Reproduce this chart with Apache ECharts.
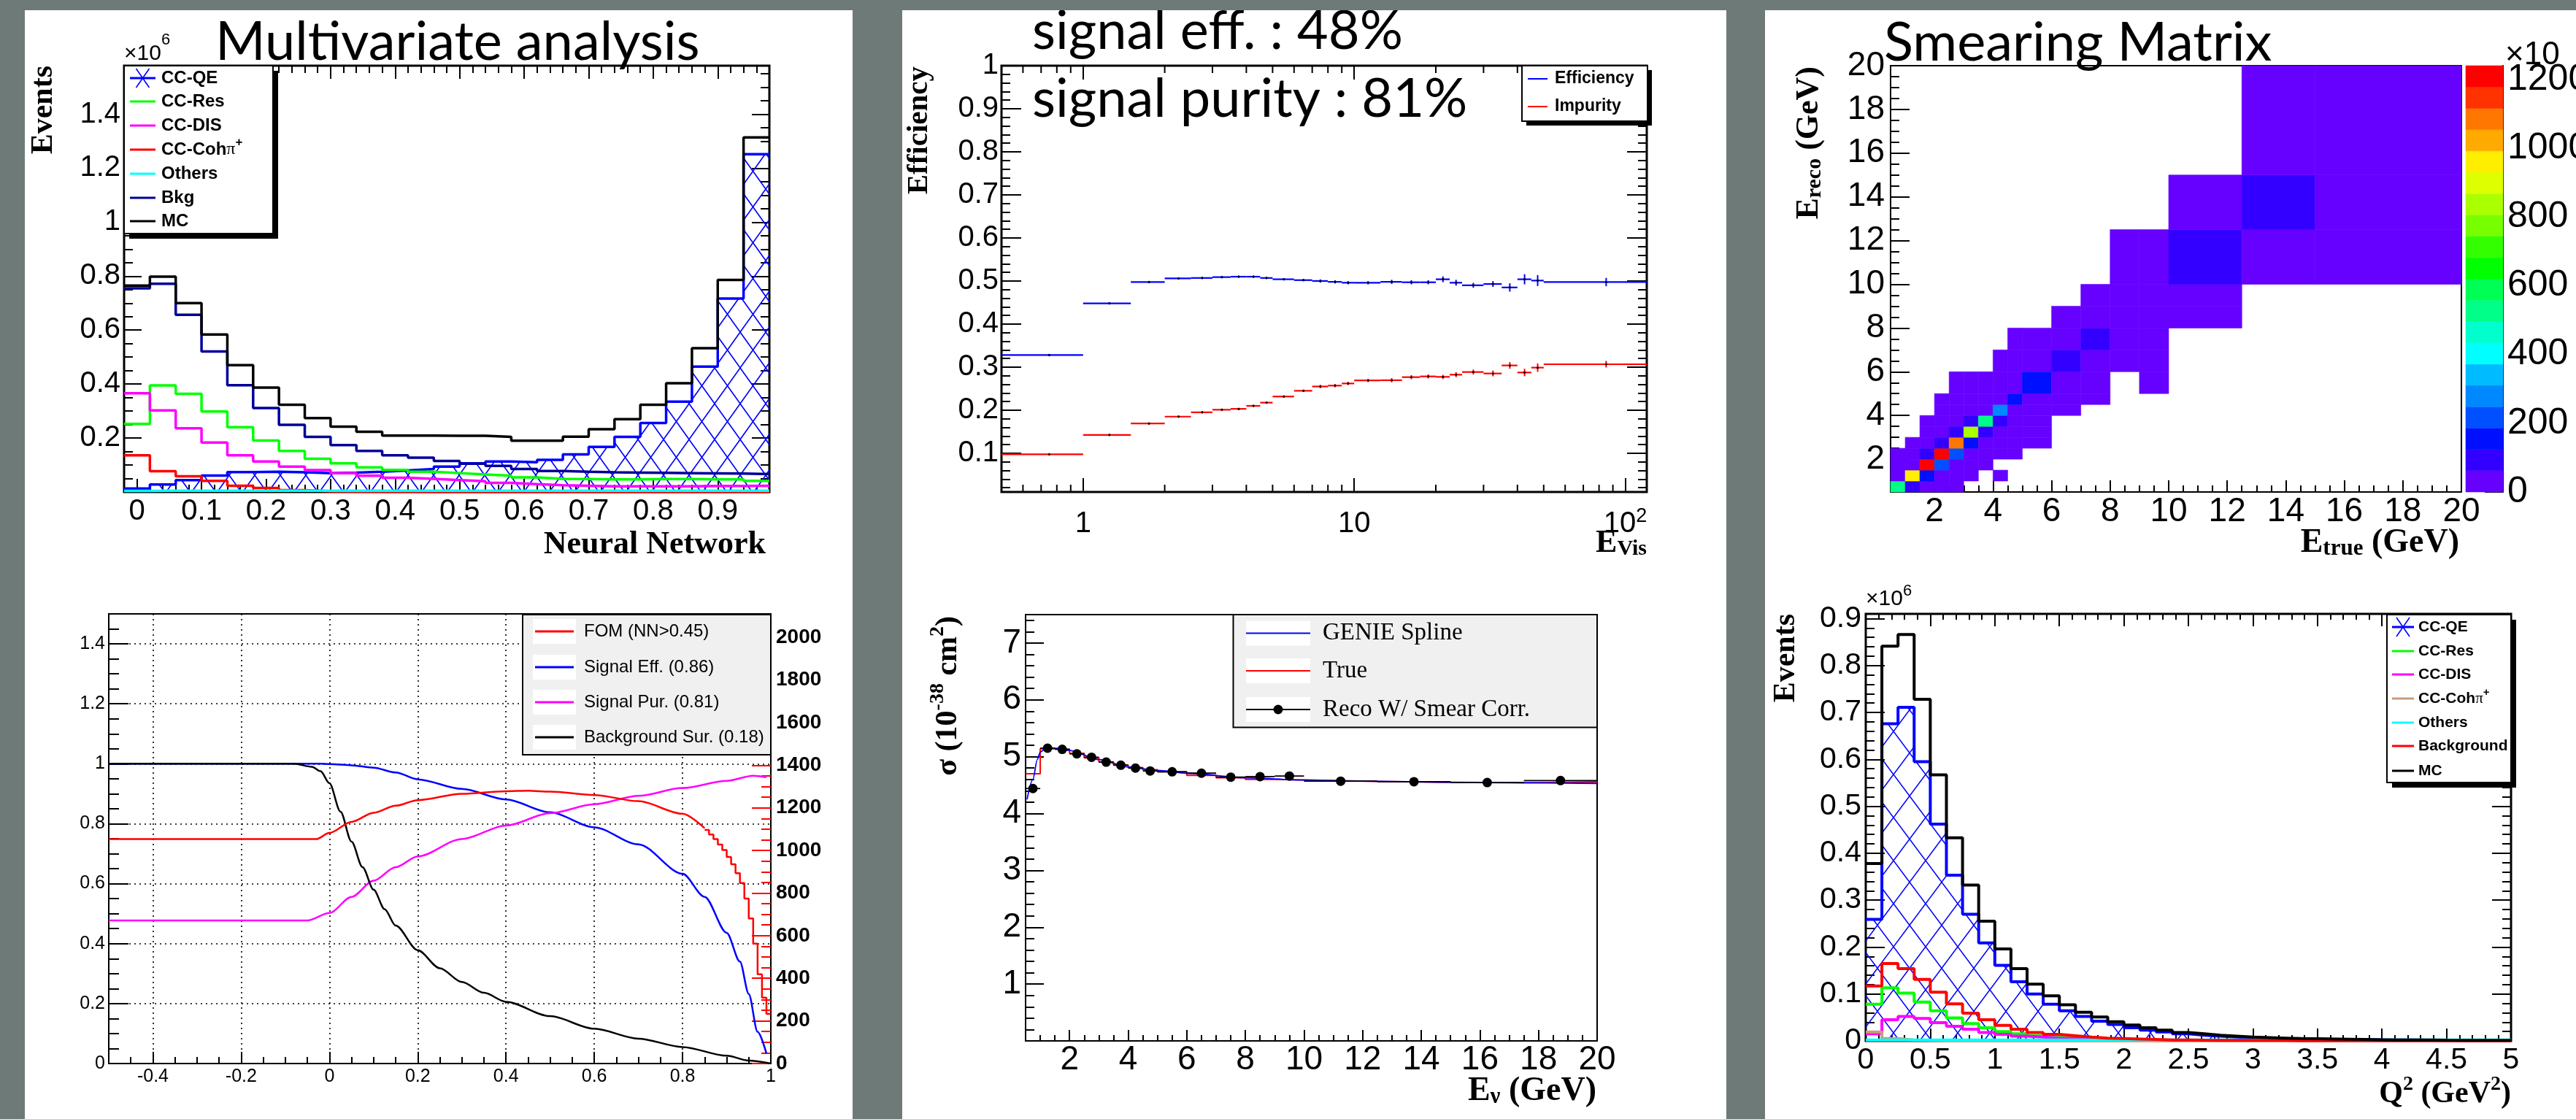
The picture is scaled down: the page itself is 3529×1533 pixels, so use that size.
<!DOCTYPE html>
<html>
<head>
<meta charset="utf-8">
<title>CCQE analysis panels</title>
<script src="https://cdn.jsdelivr.net/npm/echarts@6/dist/echarts.min.js"></script>
<style>
  html, body { margin:0; padding:0; width:3529px; height:1533px; overflow:hidden; background:#6e7a77; }
  .col { position:absolute; background:#ffffff; }
  .pan { position:absolute; overflow:hidden; }
</style>
</head>
<body>
<div class="col" style="left:34px;top:14px;width:1134px;height:1519px;"></div>
<div class="col" style="left:1236px;top:14px;width:1129px;height:1519px;"></div>
<div class="col" style="left:2418px;top:14px;width:1111px;height:1519px;"></div>
<div id="p1" class="pan" style="left:34px;top:14px;width:1134px;height:752px;"></div>
<div id="p2" class="pan" style="left:1236px;top:14px;width:1129px;height:752px;"></div>
<div id="p3" class="pan" style="left:2418px;top:14px;width:1111px;height:752px;"></div>
<div id="p4" class="pan" style="left:34px;top:766px;width:1134px;height:767px;"></div>
<div id="p5" class="pan" style="left:1236px;top:766px;width:1129px;height:767px;"></div>
<div id="p6" class="pan" style="left:2418px;top:766px;width:1111px;height:767px;"></div>
<script>
// ======================= DATA =======================
// Panel 1 : Neural network output (x10^6 events)
const nnEdges = [-0.02,0.02,0.06,0.10,0.14,0.18,0.22,0.26,0.30,0.34,0.38,0.42,0.46,0.50,0.54,0.58,0.62,0.66,0.70,0.74,0.78,0.82,0.86,0.90,0.94,0.98];
const nnCCQE  = [0.013,0.028,0.044,0.061,0.074,0.075,0.073,0.070,0.072,0.075,0.080,0.085,0.094,0.106,0.113,0.110,0.119,0.139,0.167,0.204,0.256,0.335,0.465,0.717,1.252];
const nnCCRes = [0.252,0.395,0.364,0.298,0.240,0.191,0.152,0.123,0.106,0.091,0.082,0.075,0.070,0.065,0.060,0.054,0.049,0.048,0.047,0.047,0.048,0.048,0.047,0.047,0.041];
const nnCCDIS = [0.366,0.302,0.236,0.183,0.136,0.113,0.094,0.081,0.070,0.060,0.053,0.049,0.044,0.040,0.034,0.029,0.025,0.023,0.021,0.021,0.021,0.021,0.022,0.022,0.023];
const nnCoh   = [0.136,0.077,0.058,0.041,0.023,0.015,0.007,0.003,0.002,0.001,0.001,0,0,0,0,0,0,0,0,0,0,0,0,0,0];
const nnOthers= [0.004,0.005,0.005,0.005,0.005,0.005,0.005,0.005,0.005,0.005,0.005,0.005,0.005,0.005,0.005,0.005,0.005,0.005,0.005,0.005,0.005,0.005,0.005,0.005,0.005];
const nnBkg   = [0.755,0.772,0.657,0.521,0.396,0.311,0.249,0.204,0.174,0.152,0.136,0.127,0.115,0.105,0.097,0.085,0.078,0.075,0.073,0.072,0.071,0.070,0.069,0.068,0.066];
const nnMC    = [0.765,0.798,0.700,0.584,0.470,0.387,0.323,0.274,0.242,0.223,0.209,0.209,0.208,0.208,0.204,0.190,0.190,0.205,0.233,0.270,0.323,0.403,0.533,0.786,1.314];
const nnNames = ['CC-QE','CC-Res','CC-DIS','CC-Cohπ+','Others','Bkg','MC'];
const nnColors= ['#0000ff','#00ff00','#ff00ff','#ff0000','#00ffff','#000099','#000000'];

// Panel 2 : efficiency / impurity vs E_vis
const effEdges = [0.5,1,1.5,2,2.5,3,3.5,4,4.5,5,6,7,8,9,10,12.5,15,17.5,20,22.5,25,30,35,40,45,50,120];
const effVals  = [0.328,0.448,0.4975,0.506,0.507,0.509,0.510,0.510,0.507,0.504,0.502,0.500,0.498,0.496,0.496,0.498,0.497,0.497,0.504,0.496,0.490,0.493,0.485,0.504,0.501,0.4975];
const effErrs  = [0.001,0.001,0.001,0.001,0.001,0.001,0.001,0.001,0.001,0.001,0.001,0.002,0.002,0.002,0.002,0.003,0.003,0.003,0.005,0.005,0.004,0.005,0.008,0.010,0.011,0.008];
const impVals  = [0.0975,0.1425,0.169,0.185,0.195,0.201,0.203,0.210,0.2175,0.2317,0.245,0.255,0.257,0.262,0.269,0.2695,0.2767,0.2784,0.2773,0.2824,0.2886,0.2852,0.3039,0.2875,0.2988,0.3067];
const impErrs  = [0.001,0.001,0.001,0.001,0.001,0.001,0.001,0.001,0.001,0.001,0.001,0.002,0.002,0.002,0.002,0.003,0.003,0.003,0.003,0.004,0.004,0.005,0.006,0.007,0.008,0.006];
const effMinorTicks = [0.6,0.7,0.8,0.9,2,3,4,5,6,7,8,9,20,30,40,50,60,70,80,90];

// Panel 3 : smearing matrix (rows = reco bins, columns = true bins)
const smBins = [0.5,1,1.5,2,2.5,3,3.5,4,4.5,5,6,7,8,9,10,12.5,15,20];
const smMatrix = [
  [525,90,25,25,25,0,0,0,0,0,0,0,0,0,0,0,0],
  [25,960,150,25,25,25,0,25,0,0,0,0,0,0,0,0,0],
  [25,25,1215,215,25,25,25,0,0,0,0,0,0,0,0,0,0],
  [25,25,90,1205,215,25,25,25,25,0,0,0,0,0,0,0,0],
  [0,25,25,90,1085,150,25,25,25,25,0,0,0,0,0,0,0],
  [0,0,25,25,90,830,90,25,25,25,0,0,0,0,0,0,0],
  [0,0,25,25,25,90,525,90,25,25,0,0,0,0,0,0,0],
  [0,0,0,25,25,25,25,275,25,25,25,0,0,0,0,0,0],
  [0,0,0,25,25,25,25,25,150,25,25,25,0,0,0,0,0],
  [0,0,0,0,25,25,25,25,25,150,25,25,0,25,0,0,0],
  [0,0,0,0,0,0,0,25,25,25,90,25,25,25,0,0,0],
  [0,0,0,0,0,0,0,0,25,25,25,90,25,25,0,0,0],
  [0,0,0,0,0,0,0,0,0,0,25,25,25,25,25,0,0],
  [0,0,0,0,0,0,0,0,0,0,0,25,25,25,25,0,0],
  [0,0,0,0,0,0,0,0,0,0,0,0,25,25,90,25,25],
  [0,0,0,0,0,0,0,0,0,0,0,0,0,0,25,90,25],
  [0,0,0,0,0,0,0,0,0,0,0,0,0,0,0,25,25]
];
const cbMax = 1240;
const cbTicks = [0,200,400,600,800,1000,1200];
const smPalette = ['#6600ff','#3300ff','#0010ff','#0050ff','#0088ff','#00bbff','#00ffff','#00ffcc','#00ff88','#00ff55',
                   '#00ff00','#33ff00','#77ff00','#aaff00','#ddff00','#ffee00','#ffaa00','#ff7700','#ff3300','#ff0000'];

// Panel 4 : figure of merit vs NN cut
const effX4 = [-0.5,-0.02,0,0.05,0.1,0.15,0.2,0.3,0.4,0.5,0.6,0.7,0.8,0.85,0.9,0.93,0.95,0.97,0.99];
const eff4  = [1,1,0.999,0.995,0.987,0.971,0.948,0.916,0.881,0.838,0.788,0.731,0.633,0.556,0.436,0.340,0.232,0.106,0.034];
const purX4 = [-0.5,-0.05,0,0.05,0.1,0.15,0.2,0.3,0.4,0.5,0.6,0.7,0.8,0.9,0.96,0.99];
const pur4  = [0.477,0.477,0.502,0.556,0.610,0.655,0.691,0.749,0.794,0.835,0.865,0.893,0.919,0.943,0.960,0.955];
const bkgX4 = [-0.5,-0.08,-0.04,-0.02,0,0.025,0.05,0.075,0.1,0.125,0.15,0.2,0.25,0.3,0.35,0.4,0.5,0.6,0.7,0.8,0.9,0.95,1.0];
const bkg4  = [1,1,0.99,0.975,0.935,0.84,0.74,0.655,0.58,0.515,0.46,0.378,0.318,0.272,0.236,0.206,0.158,0.116,0.083,0.055,0.026,0.01,0];
const fomX4 = [-0.5,-0.03,0,0.05,0.1,0.15,0.2,0.3,0.4,0.45,0.5,0.6,0.7,0.8,0.85];
const fom4  = [1053,1053,1082,1134,1177,1210,1236,1266,1278,1280,1276,1260,1231,1172,1104];
const fomStepEdges = [0.85,0.86,0.87,0.88,0.89,0.90,0.91,0.92,0.93,0.94,0.95,0.96,0.97,0.98,0.99,1.0];
const fomStep = [1096,1075,1053,1028,1002,969,935,893,847,774,681,563,419,309,233];
const p4Names = ['FOM (NN>0.45)','Signal Eff. (0.86)','Signal Pur. (0.81)','Background Sur. (0.18)'];
const p4Colors = ['#ff0000','#0000ff','#ff00ff','#000000'];

// Panel 5 : cross section vs E_nu
const xsEdges = [0.5,1,1.5,2,2.5,3,3.5,4,4.5,5,6,7,8,9,10,12.5,15,17.5,20];
const xsTrue  = [4.70,5.14,5.13,5.06,4.98,4.91,4.855,4.81,4.77,4.735,4.67,4.63,4.60,4.59,4.565,4.55,4.54,4.56];
const xsReco  = [4.44,5.15,5.13,5.05,4.99,4.905,4.85,4.80,4.75,4.735,4.71,4.64,4.65,4.66,4.57,4.56,4.545,4.58];
const xsSplineX = [0.55,0.75,0.9,1.0,1.2,1.5,2,3,4,5,6,8,10,12,15,20];
const xsSpline  = [4.25,4.6,4.95,5.08,5.15,5.15,5.11,4.95,4.82,4.76,4.71,4.63,4.59,4.57,4.55,4.53];

// Panel 6 : Q^2 distribution (x10^6 events), 40 bins 0..5
const q2Lo = 0, q2Width = 0.125, q2N = 40;
const q2QE  = [0.259,0.676,0.711,0.595,0.462,0.353,0.270,0.209,0.161,0.126,0.100,0.078,0.064,0.052,0.042,0.035,0.028,0.023,0.019,0.015,0.012,0.010,0.008,0.007,0.006,0.005,0.0045,0.004,0.0035,0.003,0.0028,0.0023,0.0019,0.0018,0.0016,0.0014,0.0012,0.0011,0.001,0.001];
const q2Res = [0.078,0.113,0.102,0.083,0.064,0.049,0.037,0.028,0.020,0.015,0.011,0.008,0.006,0.004,0.003,0.002,0.002,0.001,0.001,0.001,0.0008,0.0006,0.0005,0.0004,0.0003,0.0003,0.0002,0.0002,0.0002,0.0001,0.0001,0.0001,0.0001,0.0001,0.0001,0.0001,0,0,0,0];
const q2DIS = [0.015,0.045,0.052,0.048,0.039,0.031,0.025,0.018,0.014,0.010,0.008,0.006,0.005,0.004,0.003,0.002,0.002,0.001,0.001,0.001,0.0008,0.0006,0.0005,0.0004,0.0003,0.0003,0.0002,0.0002,0.0002,0.0001,0.0001,0.0001,0.0001,0.0001,0.0001,0.0001,0,0,0,0];
const q2Coh = [0.019,0.005,0.002,0.001,0,0,0,0,0,0,0,0,0,0,0,0,0,0,0,0,0,0,0,0,0,0,0,0,0,0,0,0,0,0,0,0,0,0,0,0];
const q2Others = [0.002,0.002,0.002,0.002,0.002,0.002,0.002,0.002,0.002,0.002,0.002,0.002,0.002,0.002,0.002,0.002,0.002,0.002,0.002,0.002,0.002,0.002,0.002,0.002,0.002,0.002,0.002,0.002,0.002,0.002,0.002,0.002,0.002,0.002,0.002,0.002,0.002,0.002,0.002,0.002];
const q2Bkg = [0.117,0.165,0.154,0.131,0.104,0.079,0.059,0.045,0.033,0.025,0.018,0.014,0.011,0.008,0.006,0.005,0.004,0.003,0.002,0.002,0.0015,0.0012,0.001,0.001,0.001,0.001,0.0005,0.0005,0.0004,0.0004,0.0003,0.0003,0.0002,0.0002,0.0002,0.0001,0.0001,0.0001,0.0001,0.0001];
const q2MC  = [0.378,0.841,0.866,0.728,0.567,0.433,0.332,0.255,0.196,0.154,0.121,0.096,0.077,0.061,0.051,0.041,0.034,0.028,0.023,0.018,0.015,0.012,0.010,0.008,0.007,0.006,0.005,0.0045,0.004,0.0035,0.003,0.0025,0.002,0.002,0.0018,0.0015,0.0013,0.0012,0.001,0.001];
const q2Names = ['CC-QE','CC-Res','CC-DIS','CC-Cohπ+','Others','Background','MC'];
const q2Colors = ['#0000ff','#00ff00','#ff00ff','#c89c7c','#00ffff','#ff0000','#000000'];

// ======================= HELPERS =======================
const SANS = '"Liberation Sans", Arial, Helvetica, sans-serif';
const SERIF = '"Liberation Serif", "Times New Roman", Times, serif';
const SLIDE = 'Lato, "Open Sans", "Noto Sans", sans-serif';
function F(size, fam, w) { return (w || 'normal') + ' ' + size + 'px ' + fam; }
function rng(a, b, s) { const out = []; const n = Math.round((b - a) / s); for (let i = 0; i <= n; i++) out.push(Math.round((a + i * s) * 1e6) / 1e6); return out; }
function fmtNum(v) { return String(Math.round(v * 1e6) / 1e6); }
function fmtLog(v) { const l = Math.log10(v), e = Math.round(l); if (Math.abs(l - e) > 1e-6) return ''; if (e === 0) return '1'; if (e === 1) return '10'; return '{b|10}{s|' + e + '}'; }
function stepData(edges, vals) { const d = []; for (let i = 0; i < vals.length; i++) d.push([edges[i], vals[i]]); d.push([edges[vals.length], vals[vals.length - 1]]); return d; }
function zip(xs, ys) { return xs.map(function (x, i) { return [x, ys[i]]; }); }
function hatch(w, h, color, lw) {
  const c = document.createElement('canvas'); c.width = w; c.height = h;
  const g = c.getContext('2d'); g.strokeStyle = color; g.lineWidth = lw;
  g.beginPath(); g.moveTo(0, 0); g.lineTo(w, h); g.moveTo(w, 0); g.lineTo(0, h); g.stroke();
  return c;
}
function T(x, y, text, font, o) {
  o = o || {};
  const al = o.align || 'left', va = o.va || 'middle';
  const st = { text: text, font: font, fill: o.fill || '#000', align: al, textAlign: al, verticalAlign: va, textVerticalAlign: va };
  if (o.rich) st.rich = o.rich;
  return { type: 'text', x: x, y: y, rotation: o.rot || 0, z: 60, silent: true, style: st };
}
function R(font, lh, va) { const o = { font: font, lineHeight: lh, fill: '#000' }; if (va) { o.verticalAlign = va; o.textVerticalAlign = va; } return o; }
function rect(x, y, w, h, fill, stroke, lw, z) { const st = { fill: fill }; if (stroke) { st.stroke = stroke; st.lineWidth = lw; } return { type: 'rect', shape: { x: x, y: y, width: w, height: h }, style: st, z: z, silent: true }; }
function seg(x1, y1, x2, y2, color, w, z) { return { type: 'line', shape: { x1: x1, y1: y1, x2: x2, y2: y2 }, style: { stroke: color, lineWidth: w }, z: z || 53, silent: true }; }
function nameText(x, y, name, font, size, fam, weight) {
  if (name.indexOf('π+') >= 0) {
    const base = name.replace('π+', '');
    return T(x, y, '{a|' + base + '}{p|π}{s|+}', font, { rich: { a: R(font, size * 1.5), p: R(F(size, SERIF, 'normal'), size * 1.5), s: R(F(Math.round(size * 0.7), fam, weight), Math.round(size * 0.8), 'top') } });
  }
  return T(x, y, name, font);
}
function legendEls(o) {
  const els = [];
  if (o.shadow) els.push(rect(o.x + o.shadow, o.y + o.shadow, o.w, o.h, '#000', null, 0, 50));
  els.push(rect(o.x, o.y, o.w, o.h, o.bg || '#fff', '#000', o.bw || 2, 51));
  o.items.forEach(function (it, i) {
    const y = o.rows[i];
    if (o.iconBg) els.push(rect(o.ix0, y - o.iconBg / 2, o.ix1 - o.ix0, o.iconBg, '#fff', null, 0, 52));
    els.push(seg(o.ix0 + (o.inset || 0), y, o.ix1 - (o.inset || 0), y, it.color, o.lw || 3, 53));
    const cx = (o.ix0 + o.ix1) / 2;
    if (it.cross) { els.push(seg(cx - 9, y - 13, cx + 9, y + 13, it.color, 1.6, 53)); els.push(seg(cx - 9, y + 13, cx + 9, y - 13, it.color, 1.6, 53)); }
    if (it.dot) els.push({ type: 'circle', shape: { cx: cx, cy: y, r: it.dot }, style: { fill: it.color }, z: 54, silent: true });
    els.push(nameText(o.tx, y, it.name, o.font, o.fsize, o.fam, o.weight));
  });
  return els;
}
function grid(l, t, w, h, bw) { return { left: l, top: t, width: w, height: h, show: true, borderColor: '#000', borderWidth: bw, backgroundColor: 'rgba(0,0,0,0)', containLabel: false, outerBoundsMode: 'none' }; }
function axes(dim, o) {
  const pos = o.pos || (dim === 'x' ? ['bottom', 'top'] : ['left', 'right']);
  const tickStyle = { color: o.tickColor || '#000', width: o.tickWidth || 2 };
  function mk(p, vals, len, lab, split) {
    return {
      type: 'value', gridIndex: o.grid || 0, min: o.min, max: o.max, position: p,
      axisLine: { show: false, onZero: false },
      axisTick: { show: true, inside: true, length: len, customValues: vals, lineStyle: tickStyle },
      minorTick: { show: false },
      splitLine: split ? { show: true, lineStyle: split } : { show: false },
      axisLabel: lab ? Object.assign({ show: true, customValues: vals, formatter: fmtNum, hideOverlap: false, color: '#000' }, lab) : { show: false },
      axisPointer: { show: false }
    };
  }
  const list = [mk(pos[0], o.major, o.majLen, o.label, o.split), mk(pos[0], o.minor, o.minLen, null, null)];
  if (o.mirror) list.push(mk(pos[1], o.major, o.majLen, null, null), mk(pos[1], o.minor, o.minLen, null, null));
  return list;
}
function hist(name, edges, vals, color, width, z, area) {
  const s = { name: name, type: 'line', step: 'end', data: stepData(edges, vals), symbol: 'none', showSymbol: false,
    lineStyle: { color: color, width: width }, itemStyle: { color: color }, z: z, silent: true, animation: false, xAxisIndex: 0, yAxisIndex: 0 };
  if (area) s.areaStyle = area;
  return s;
}
function smoothLine(name, xs, ys, color, yIdx, w) {
  return { name: name, type: 'line', data: zip(xs, ys), smooth: 0.3, smoothMonotone: 'x', symbol: 'none', showSymbol: false,
    lineStyle: { color: color, width: w || 2.5 }, itemStyle: { color: color }, xAxisIndex: 0, yAxisIndex: yIdx || 0, z: 4, silent: true, animation: false };
}
function mount(id, option) {
  const el = document.getElementById(id);
  const c = echarts.init(el, null, { renderer: 'canvas', width: el.clientWidth, height: el.clientHeight });
  c.setOption(option);
  return c;
}

// ======================= PANEL 1 =======================
const nnSeriesVals = [nnCCQE, nnCCRes, nnCCDIS, nnCoh, nnOthers, nnBkg, nnMC];
const opt1 = {
  animation: false,
  grid: [grid(136, 76, 884, 584, 3)],
  xAxis: axes('x', { min: -0.02, max: 0.98, major: rng(0, 0.9, 0.1), minor: rng(-0.02, 0.98, 0.02), majLen: 18, minLen: 10, mirror: true,
    label: { fontFamily: SANS, fontSize: 40, margin: 7 } }),
  yAxis: axes('y', { min: 0, max: 1.58, major: rng(0.2, 1.4, 0.2), minor: rng(0, 1.55, 0.05), majLen: 24, minLen: 12, mirror: true,
    label: { fontFamily: SANS, fontSize: 40, margin: 5 } }),
  series: nnNames.map(function (n, i) {
    const area = i === 0 ? { color: { image: hatch(35, 49, '#0000ff', 1.6), repeat: 'repeat' }, opacity: 1 } : null;
    return hist(n, nnEdges, nnSeriesVals[i], nnColors[i], 3.5, i === 0 ? 2 : (i === 6 ? 5 : 3), area);
  }),
  graphic: { elements: [
    T(261, 44, 'Multivariate analysis', F(74, SLIDE)),
    T(136, 60, '{a|×10}{b|6}', F(30, SANS), { rich: { a: R(F(30, SANS), 60), b: R(F(22, SANS), 22, 'top') } }),
    T(26.5, 76, 'Events', F(42, SERIF, 'bold'), { rot: Math.PI / 2, align: 'right' }),
    T(1015, 733, 'Neural Network', F(44, SERIF, 'bold'), { align: 'right' })
  ].concat(legendEls({ x: 136, y: 76, w: 204, h: 230, shadow: 7, rows: [93, 125, 158, 191, 224, 257, 289], ix0: 144, ix1: 179, tx: 187,
    font: F(24, SANS, 'bold'), fsize: 24, fam: SANS, weight: 'bold', lw: 3,
    items: nnNames.map(function (n, i) { return { name: n, color: nnColors[i], cross: i === 0 }; }) })) }
};

// ======================= PANEL 2 =======================
function logAxis(p, withLabel) {
  return { type: 'log', logBase: 10, min: 0.5, max: 120, position: p, axisLine: { show: false, onZero: false }, splitLine: { show: false },
    minorTick: { show: false }, minorSplitLine: { show: false }, axisPointer: { show: false },
    axisTick: { show: true, inside: true, length: 19, lineStyle: { color: '#000', width: 2 } },
    axisLabel: withLabel ? { show: true, margin: 20, lineHeight: 48, fontFamily: SANS, fontSize: 40, color: '#000', formatter: fmtLog, hideOverlap: false,
      rich: { b: { fontFamily: SANS, fontSize: 40, lineHeight: 48, color: '#000' }, s: { fontFamily: SANS, fontSize: 27, lineHeight: 30, verticalAlign: 'top', color: '#000' } } } : { show: false } };
}
function binErr(name, edges, vals, errs, color) {
  return { name: name, type: 'custom', xAxisIndex: 0, yAxisIndex: 0, silent: true, z: 4,
    data: vals.map(function (v, i) { return [edges[i], edges[i + 1], v, errs[i]]; }), encode: { x: [0, 1], y: [2] },
    renderItem: function (p, api) {
      const x0 = api.value(0), x1 = api.value(1), v = api.value(2), e = api.value(3), xc = (x0 + x1) / 2;
      const a = api.coord([x0, v]), b = api.coord([x1, v]), c0 = api.coord([xc, v - e]), c1 = api.coord([xc, v + e]);
      return { type: 'group', children: [
        { type: 'line', shape: { x1: a[0], y1: a[1], x2: b[0], y2: b[1] }, style: { stroke: color, lineWidth: 2.2 } },
        { type: 'line', shape: { x1: c0[0], y1: c0[1] + 1, x2: c0[0], y2: c1[1] - 1 }, style: { stroke: color, lineWidth: 2 } },
        { type: 'circle', shape: { cx: c0[0], cy: a[1], r: 1.5 }, style: { fill: '#000' } }
      ] };
    } };
}
const opt2 = {
  animation: false,
  grid: [grid(136, 76, 884, 584, 3)],
  xAxis: [logAxis('bottom', true), logAxis('top', false)],
  yAxis: axes('y', { min: 0.01, max: 1, major: rng(0.1, 1, 0.1), minor: rng(0.02, 1, 0.02), majLen: 27, minLen: 12, mirror: true,
    label: { fontFamily: SANS, fontSize: 40, margin: 4 } }),
  series: [
    binErr('Efficiency', effEdges, effVals, effErrs, '#0000ff'),
    binErr('Impurity', effEdges, impVals, impErrs, '#ff0000'),
    { type: 'custom', xAxisIndex: 0, yAxisIndex: 0, silent: true, z: 5, data: effMinorTicks.map(function (v) { return [v, 0.5]; }), encode: { x: 0, y: 1 },
      renderItem: function (p, api) {
        const x = api.value(0), b = api.coord([x, 0.01]), t = api.coord([x, 1]);
        return { type: 'group', children: [
          { type: 'line', shape: { x1: b[0], y1: b[1], x2: b[0], y2: b[1] - 10 }, style: { stroke: '#000', lineWidth: 2 } },
          { type: 'line', shape: { x1: t[0], y1: t[1], x2: t[0], y2: t[1] + 10 }, style: { stroke: '#000', lineWidth: 2 } } ] };
      } }
  ],
  graphic: { elements: [
    T(178, 29, 'signal eff. : 48%', F(74, SLIDE)),
    T(178, 122, 'signal purity : 81%', F(74, SLIDE)),
    T(23, 77, 'Efficiency', F(41, SERIF, 'bold'), { rot: Math.PI / 2, align: 'right' }),
    T(1020, 731, '{e|E}{s|Vis}', F(44, SERIF, 'bold'), { align: 'right', rich: { e: R(F(44, SERIF, 'bold'), 44), s: R(F(30, SERIF, 'bold'), 10, 'bottom') } })
  ].concat(legendEls({ x: 849, y: 76, w: 172, h: 76, shadow: 6, rows: [94, 132], ix0: 857, ix1: 884, tx: 894, font: F(23, SANS, 'bold'), fsize: 23, fam: SANS, weight: 'bold', lw: 2,
    items: [{ name: 'Efficiency', color: '#0000ff' }, { name: 'Impurity', color: '#ff0000' }] })) }
};

// ======================= PANEL 3 =======================
const cbStep = cbMax / smPalette.length;
const smCells = [];
smMatrix.forEach(function (row, iy) { row.forEach(function (v, ix) { if (v > 0) smCells.push([smBins[ix], smBins[ix + 1], smBins[iy], smBins[iy + 1], v]); }); });
const opt3 = {
  animation: false,
  grid: [grid(172, 76, 782, 584, 2), grid(960, 76, 51, 584, 0)],
  xAxis: axes('x', { min: 0.5, max: 20, major: rng(2, 20, 2), minor: rng(1, 19.5, 0.5), majLen: 16, minLen: 9, label: { fontFamily: SANS, fontSize: 46, margin: 4 } })
    .concat([{ type: 'value', gridIndex: 1, min: 0, max: 1, show: false }]),
  yAxis: axes('y', { min: 0.5, max: 20, major: rng(2, 20, 2), minor: rng(1, 19.5, 0.5), majLen: 26, minLen: 12, label: { fontFamily: SANS, fontSize: 46, margin: 8 } })
    .concat([{ type: 'value', gridIndex: 1, min: 0, max: cbMax, position: 'right', axisLine: { show: true, onZero: false, lineStyle: { color: '#000', width: 2 } }, splitLine: { show: false },
      axisTick: { show: true, inside: true, length: 25, customValues: cbTicks, lineStyle: { color: '#000', width: 2 } },
      axisLabel: { show: true, customValues: cbTicks, formatter: fmtNum, fontFamily: SANS, fontSize: 50, color: '#000', margin: 6, hideOverlap: false } }]),
  visualMap: { type: 'piecewise', show: false, seriesIndex: 0, dimension: 4,
    pieces: smPalette.map(function (c, i) { return i < smPalette.length - 1 ? { gte: i * cbStep, lt: (i + 1) * cbStep, color: c } : { gte: i * cbStep, lte: cbMax, color: c }; }) },
  series: [
    { name: 'Smearing', type: 'custom', xAxisIndex: 0, yAxisIndex: 0, silent: true, z: 2, data: smCells, encode: { x: [0, 1], y: [2, 3] },
      renderItem: function (p, api) {
        const a = api.coord([api.value(0), api.value(2)]), b = api.coord([api.value(1), api.value(3)]);
        const col = api.visual('color');
        return { type: 'rect', shape: { x: a[0], y: b[1], width: b[0] - a[0], height: a[1] - b[1] }, style: { fill: col, stroke: col, lineWidth: 0.6 } };
      } },
    { name: 'Colorbar', type: 'custom', xAxisIndex: 2, yAxisIndex: 2, silent: true, z: 2,
      data: smPalette.map(function (c, i) { return [0, 1, i * cbStep, (i + 1) * cbStep]; }), encode: { x: [0, 1], y: [2, 3] },
      renderItem: function (p, api) {
        const a = api.coord([0, api.value(2)]), b = api.coord([1, api.value(3)]);
        const col = smPalette[p.dataIndex];
        return { type: 'rect', shape: { x: a[0], y: b[1], width: b[0] - a[0], height: a[1] - b[1] }, style: { fill: col, stroke: col, lineWidth: 0.6 } };
      } }
  ],
  graphic: { elements: [
    T(163, 45, 'Smearing Matrix', F(74, SLIDE)),
    T(61, 77, '{e|E}{s|reco}{e| (GeV)}', F(44, SERIF, 'bold'), { rot: Math.PI / 2, align: 'right', rich: { e: R(F(44, SERIF, 'bold'), 44), s: R(F(30, SERIF, 'bold'), 16, 'bottom') } }),
    T(951, 730, '{e|E}{s|true}{e| (GeV)}', F(46, SERIF, 'bold'), { align: 'right', rich: { e: R(F(46, SERIF, 'bold'), 46), s: R(F(31, SERIF, 'bold'), 16, 'bottom') } }),
    T(1014, 62, '×10', F(44, SANS))
  ] }
};

// ======================= PANEL 4 =======================
const dotted = { type: [2, 5], color: '#000', width: 1.6 };
const opt4 = {
  animation: false,
  grid: [grid(115, 75, 907, 616, 2)],
  xAxis: axes('x', { min: -0.5, max: 1, major: rng(-0.4, 1, 0.2), minor: rng(-0.5, 1, 0.05), majLen: 16, minLen: 9,
    label: { fontFamily: SANS, fontSize: 25, margin: 6 }, split: dotted }),
  yAxis: axes('y', { min: 0, max: 1.5, major: rng(0, 1.4, 0.2), minor: rng(0, 1.5, 0.05), majLen: 27, minLen: 14,
    label: { fontFamily: SANS, fontSize: 25, margin: 5 }, split: dotted })
    .concat(axes('y', { min: 0, max: 2110, major: rng(0, 2000, 200), minor: rng(0, 2100, 50), majLen: 26, minLen: 13, pos: ['right', 'left'], tickColor: '#ff0000',
      label: { fontFamily: SANS, fontSize: 28, fontWeight: 'bold', margin: 7 } })),
  series: [
    smoothLine(p4Names[1], effX4, eff4, p4Colors[1], 0),
    smoothLine(p4Names[2], purX4, pur4, p4Colors[2], 0),
    smoothLine(p4Names[3], bkgX4, bkg4, p4Colors[3], 0),
    smoothLine(p4Names[0], fomX4, fom4, p4Colors[0], 2),
    { name: p4Names[0], type: 'line', step: 'end', data: stepData(fomStepEdges, fomStep), symbol: 'none', showSymbol: false,
      lineStyle: { color: '#ff0000', width: 2.5 }, itemStyle: { color: '#ff0000' }, xAxisIndex: 0, yAxisIndex: 2, z: 4, silent: true }
  ],
  graphic: { elements: legendEls({ x: 682, y: 76, w: 340, h: 192, bg: '#f0f0f0', bw: 2, rows: [99, 148, 196, 244], ix0: 696, ix1: 755, iconBg: 34, inset: 3, tx: 766,
    font: F(24, SANS), fsize: 24, fam: SANS, weight: 'normal', lw: 3,
    items: p4Names.map(function (n, i) { return { name: n, color: p4Colors[i] }; }) }) }
};

// ======================= PANEL 5 =======================
const opt5 = {
  animation: false,
  grid: [grid(169, 76, 783, 584, 2)],
  xAxis: axes('x', { min: 0.5, max: 20, major: rng(2, 20, 2), minor: rng(0.5, 20, 0.5), majLen: 15, minLen: 8, label: { fontFamily: SANS, fontSize: 46, margin: 3 } }),
  yAxis: axes('y', { min: 0, max: 7.5, major: rng(1, 7, 1), minor: rng(0, 7.4, 0.2), majLen: 25, minLen: 12, label: { fontFamily: SANS, fontSize: 46, margin: 6 } }),
  series: [
    smoothLine('GENIE Spline', xsSplineX, xsSpline, '#0000ff', 0, 1.8),
    hist('True', xsEdges, xsTrue, '#ff0000', 2, 3, null),
    { name: 'Reco W/ Smear Corr.', type: 'custom', xAxisIndex: 0, yAxisIndex: 0, silent: true, z: 6,
      data: xsReco.map(function (v, i) { return [xsEdges[i], xsEdges[i + 1], v]; }), encode: { x: [0, 1], y: [2] },
      renderItem: function (p, api) {
        const v = api.value(2), a = api.coord([api.value(0), v]), b = api.coord([api.value(1), v]);
        return { type: 'group', children: [
          { type: 'line', shape: { x1: a[0], y1: a[1], x2: b[0], y2: b[1] }, style: { stroke: '#000', lineWidth: 1.8 } },
          { type: 'circle', shape: { cx: (a[0] + b[0]) / 2, cy: a[1], r: 6.5 }, style: { fill: '#000' } } ] };
      } }
  ],
  graphic: { elements: [
    T(63, 78, '{m|σ (10}{s|-38}{m| cm}{s|2}{m|)}', F(42, SERIF, 'bold'), { rot: Math.PI / 2, align: 'right', rich: { m: R(F(42, SERIF, 'bold'), 56), s: R(F(28, SERIF, 'bold'), 28, 'top') } }),
    T(951, 729.5, '{e|E}{s|ν}{e| (GeV)}', F(46, SERIF, 'bold'), { align: 'right', rich: { e: R(F(46, SERIF, 'bold'), 46), s: R(F(31, SERIF, 'bold'), 16, 'bottom') } })
  ].concat(legendEls({ x: 453.5, y: 76, w: 498.5, h: 154.6, bg: '#f0f0f0', bw: 2, rows: [101.5, 153, 206], ix0: 471, ix1: 559, iconBg: 34, tx: 576,
    font: F(33, SERIF), fsize: 33, fam: SERIF, weight: 'normal', lw: 2,
    items: [{ name: 'GENIE Spline', color: '#0000ff' }, { name: 'True', color: '#ff0000' }, { name: 'Reco W/ Smear Corr.', color: '#000000', dot: 6.5 }] })) }
};

// ======================= PANEL 6 =======================
const q2Edges = []; for (let i = 0; i <= q2N; i++) q2Edges.push(Math.round((q2Lo + i * q2Width) * 1e6) / 1e6);
const q2SeriesVals = [q2QE, q2Res, q2DIS, q2Coh, q2Others, q2Bkg, q2MC];
const opt6 = {
  animation: false,
  grid: [grid(138, 75, 884, 585, 3)],
  xAxis: axes('x', { min: 0, max: 5, major: rng(0, 5, 0.5), minor: rng(0, 5, 0.1), majLen: 17, minLen: 8, mirror: true, label: { fontFamily: SANS, fontSize: 41, margin: 6 } }),
  yAxis: axes('y', { min: 0, max: 0.91, major: rng(0, 0.9, 0.1), minor: rng(0, 0.9, 0.02), majLen: 26, minLen: 12, mirror: true, label: { fontFamily: SANS, fontSize: 41, margin: 6 } }),
  series: q2Names.map(function (n, i) {
    const area = i === 0 ? { color: { image: hatch(44, 59, '#0000ff', 1.6), repeat: 'repeat' }, opacity: 1 } : null;
    return hist(n, q2Edges, q2SeriesVals[i], q2Colors[i], 4, i === 0 ? 2 : (i === 6 ? 5 : 3), area);
  }),
  graphic: { elements: [
    T(29, 75, 'Events', F(42, SERIF, 'bold'), { rot: Math.PI / 2, align: 'right' }),
    T(1022, 733.5, '{m|Q}{s|2}{m| (GeV}{s|2}{m|)}', F(42, SERIF, 'bold'), { align: 'right', rich: { m: R(F(42, SERIF, 'bold'), 56), s: R(F(28, SERIF, 'bold'), 28, 'top') } }),
    T(138, 55, '{a|×10}{b|6}', F(30, SANS), { rich: { a: R(F(30, SANS), 44), b: R(F(22, SANS), 26, 'top') } })
  ].concat(legendEls({ x: 852, y: 76, w: 170, h: 230, shadow: 7, rows: [93, 126, 158, 191, 224, 256, 290], ix0: 859, ix1: 889, tx: 895,
    font: F(21, SANS, 'bold'), fsize: 21, fam: SANS, weight: 'bold', lw: 3,
    items: q2Names.map(function (n, i) { return { name: n, color: q2Colors[i], cross: i === 0 }; }) })) }
};

mount('p1', opt1);
mount('p2', opt2);
mount('p3', opt3);
mount('p4', opt4);
mount('p5', opt5);
mount('p6', opt6);
</script>
</body>
</html>
